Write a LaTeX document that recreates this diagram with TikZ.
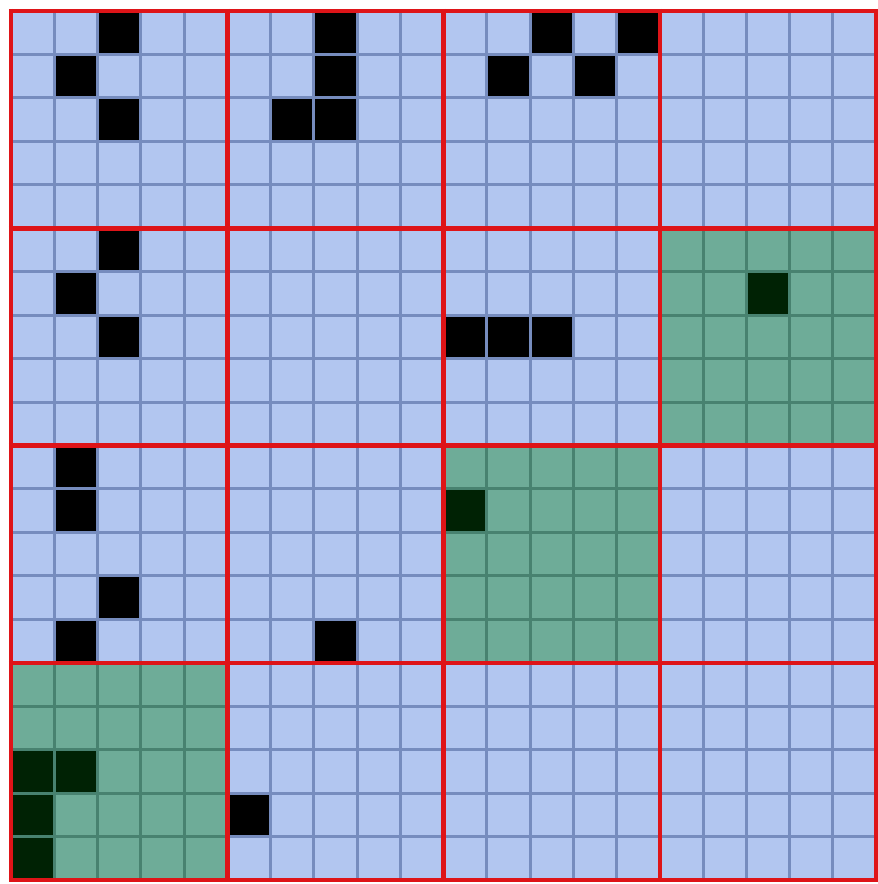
\documentclass[tikz,border=0pt]{standalone}
\definecolor{cellblue}{RGB}{178,198,240}
\definecolor{lineblue}{RGB}{118,140,190}
\definecolor{cellgreen}{RGB}{110,172,152}
\definecolor{linegreen}{RGB}{72,130,112}
\definecolor{darkgreen}{RGB}{0,34,4}
\definecolor{gridred}{RGB}{222,20,24}
\begin{document}
\begin{tikzpicture}[x=1pt,y=-1pt]
\useasboundingbox (0,0) rectangle (878,884);
\fill[white] (0,0) rectangle (878,884);
\def\cx{43.25}
\def\cy{43.45}
\def\ox{11}
\def\oy{11}
% background
\fill[cellblue] (\ox,\oy) rectangle (\ox+20*\cx,\oy+20*\cy);
% green blocks (block row, block col)
\foreach \br/\bc in {1/3,2/2,3/0}{
  \fill[cellgreen] (\ox+5*\bc*\cx,\oy+5*\br*\cy) rectangle (\ox+5*\bc*\cx+5*\cx,\oy+5*\br*\cy+5*\cy);
}
% thin grid lines
\foreach \i in {1,...,19}{
  \draw[lineblue,line width=3pt] (\ox+\i*\cx,\oy) -- (\ox+\i*\cx,\oy+20*\cy);
  \draw[lineblue,line width=3pt] (\ox,\oy+\i*\cy) -- (\ox+20*\cx,\oy+\i*\cy);
}
% grid lines inside green blocks
\foreach \br/\bc in {1/3,2/2,3/0}{
  \foreach \k in {1,...,4}{
    \draw[linegreen,line width=3pt] (\ox+5*\bc*\cx+\k*\cx,\oy+5*\br*\cy) -- (\ox+5*\bc*\cx+\k*\cx,\oy+5*\br*\cy+5*\cy);
    \draw[linegreen,line width=3pt] (\ox+5*\bc*\cx,\oy+5*\br*\cy+\k*\cy) -- (\ox+5*\bc*\cx+5*\cx,\oy+5*\br*\cy+\k*\cy);
  }
}
% black cells (row/col)
\foreach \r/\c in {0/2,1/1,2/2, 0/7,1/7,2/6,2/7, 0/12,0/14,1/11,1/13, 5/2,6/1,7/2, 7/10,7/11,7/12, 10/1,11/1,13/2,14/1, 14/7, 18/5}{
  \fill[black] (\ox+\c*\cx+1.5,\oy+\r*\cy+1.5) rectangle (\ox+\c*\cx+\cx-1.5,\oy+\r*\cy+\cy-1.5);
}
% dark green cells
\foreach \r/\c in {6/17, 11/10, 17/0,17/1,18/0,19/0}{
  \fill[darkgreen] (\ox+\c*\cx+1.5,\oy+\r*\cy+1.5) rectangle (\ox+\c*\cx+\cx-1.5,\oy+\r*\cy+\cy-1.5);
}
% red block lines
\foreach \k in {0,...,4}{
  \draw[gridred,line width=4.5pt] (\ox+5*\k*\cx,\oy-2.25) -- (\ox+5*\k*\cx,\oy+20*\cy+2.25);
  \draw[gridred,line width=4.5pt] (\ox-2.25,\oy+5*\k*\cy) -- (\ox+20*\cx+2.25,\oy+5*\k*\cy);
}
\end{tikzpicture}
\end{document}
